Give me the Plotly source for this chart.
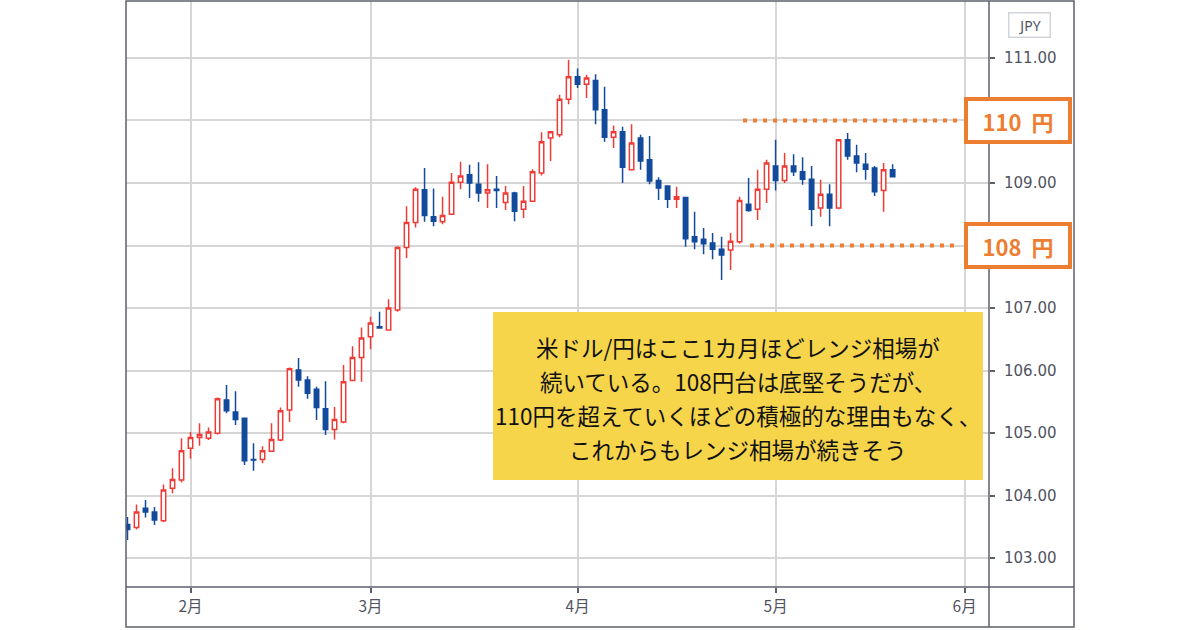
import pandas as pd
import plotly.graph_objects as go

# ---------------- data (USD/JPY daily, Jan 21 – May 20 2021) ----------------
dates = pd.bdate_range("2021-01-21", "2021-05-20")

opens = [
    103.54, 103.49, 103.80, 103.74, 103.60, 104.12, 104.25,
    104.76, 104.93, 104.92, 105.00, 105.53, 105.34, 105.24, 104.58, 104.58, 104.71,
    104.89, 105.37, 106.01, 105.85, 105.70, 105.39, 105.06, 105.18, 105.84, 106.21,
    106.54, 106.70, 106.65, 106.97, 107.97, 108.37, 108.89, 108.46, 108.38, 108.50,
    109.01, 109.13, 108.98, 108.84, 108.90, 108.69, 108.84, 108.58, 108.71, 109.16,
    109.72, 109.77, 110.34,
    110.70, 110.58, 110.64, 110.17, 109.73, 109.82, 109.21, 109.72, 109.37, 109.04,
    108.95, 108.74, 108.77, 108.14, 108.10, 108.04, 107.94, 107.93, 108.06, 108.66,
    108.58, 108.90,
    109.27, 109.04, 109.27, 109.18, 109.06, 108.60, 108.82, 108.60, 109.69, 109.43,
    109.30, 109.24, 108.88, 109.21,
]
highs = [
    103.66, 103.86, 103.93, 103.82, 104.18, 104.44, 104.92,
    105.02, 105.16, 105.09, 105.57, 105.77, 105.67, 105.25, 104.84, 104.79, 105.16,
    105.41, 106.05, 106.20, 105.91, 105.74, 105.83, 105.42, 106.09, 106.39, 106.69,
    106.86, 106.94, 107.14, 107.99, 108.63, 108.93, 109.24, 108.91, 108.78, 109.16,
    109.34, 109.29, 109.33, 109.30, 109.11, 108.95, 108.86, 108.95, 109.22, 109.81,
    109.83, 110.41, 110.97,
    110.83, 110.73, 110.74, 110.54, 109.92, 109.90, 109.94, 109.77, 109.75, 109.09,
    108.96, 108.94, 108.78, 108.54, 108.28, 108.20, 108.14, 108.20, 108.78, 109.08,
    109.21, 109.37,
    109.69, 109.48, 109.46, 109.41, 109.27, 109.05, 108.98, 109.70, 109.80, 109.61,
    109.48, 109.27, 109.32, 109.30,
]
lows = [
    103.29, 103.46, 103.65, 103.53, 103.58, 104.04, 104.21,
    104.59, 104.80, 104.89, 104.98, 105.32, 105.13, 104.49, 104.40, 104.52, 104.70,
    104.87, 105.18, 105.74, 105.55, 105.21, 104.97, 104.90, 105.16, 105.83, 105.82,
    106.34, 106.68, 106.64, 106.94, 107.80, 108.29, 108.38, 108.31, 108.34, 108.49,
    108.90, 108.76, 108.70, 108.60, 108.60, 108.57, 108.39, 108.44, 108.70, 109.12,
    109.35, 109.73, 110.26,
    110.52, 110.36, 109.94, 109.66, 109.56, 109.00, 109.21, 109.21, 108.98, 108.73,
    108.60, 108.60, 107.98, 107.94, 107.86, 107.78, 107.45, 107.61, 108.03, 108.54,
    108.41, 108.68,
    108.88, 109.00, 109.11, 108.97, 108.31, 108.46, 108.31, 108.58, 109.37, 109.17,
    109.05, 108.79, 108.54, 109.09,
]
closes = [
    103.46, 103.74, 103.74, 103.61, 104.09, 104.26, 104.72,
    104.93, 104.98, 105.02, 105.55, 105.36, 105.22, 104.56, 104.57, 104.72, 104.90,
    105.36, 106.03, 105.85, 105.64, 105.41, 105.06, 105.22, 105.82, 106.21, 106.52,
    106.76, 106.68, 107.00, 107.97, 108.37, 108.90, 108.48, 108.39, 108.48, 109.01,
    109.11, 109.00, 108.84, 108.89, 108.88, 108.84, 108.55, 108.71, 109.18, 109.66,
    109.82, 110.34, 110.70,
    110.58, 110.68, 110.17, 109.73, 109.82, 109.25, 109.64, 109.35, 109.03, 108.92,
    108.74, 108.78, 108.11, 108.06, 108.03, 107.94, 107.85, 108.07, 108.72, 108.56,
    108.90, 109.32,
    109.04, 109.27, 109.18, 109.06, 108.58, 108.82, 108.60, 109.69, 109.43, 109.32,
    109.22, 108.86, 109.21, 109.10,
]

month_ticks = ["2021-02-01", "2021-03-01", "2021-04-01", "2021-05-03", "2021-06-01"]
month_labels = ["2月", "3月", "4月", "5月", "6月"]
price_ticks = [103, 104, 105, 106, 107, 108, 109, 110, 111]
price_labels = ["103.00", "104.00", "105.00", "106.00", "107.00", "", "109.00", "", "111.00"]

levels = [110, 108]
level_labels = ["110&nbsp; 円", "108&nbsp; 円"]
level_starts = [0.715, 0.723]

comment_lines = [
    "米ドル/円はここ1カ月ほどレンジ相場が",
    "続いている。108円台は底堅そうだが、",
    "110円を超えていくほどの積極的な理由もなく、",
    "これからもレンジ相場が続きそう",
]
comment_y = [0.410, 0.352, 0.293, 0.235]

# ---------------- style ----------------
RED = "#EF3B36"
BLUE = "#124A9C"
ORANGE = "#ED7D31"
FRAME = "#5D606B"
GRID = "#D6D6D6"
LABEL = "#50535E"
YELLOW = "#F6D54B"
JP = "Noto Sans CJK JP"

fig = go.Figure()
fig.add_trace(go.Candlestick(
    x=dates, open=opens, high=highs, low=lows, close=closes,
    increasing=dict(line=dict(color=RED, width=1.5), fillcolor="white"),
    decreasing=dict(line=dict(color=BLUE, width=1.5), fillcolor=BLUE),
    showlegend=False, hoverinfo="skip",
))

fig.update_layout(
    width=1200, height=630,
    margin=dict(l=126, r=211, t=1, b=43),
    paper_bgcolor="white", plot_bgcolor="white",
    showlegend=False,
    xaxis=dict(
        type="date",
        rangebreaks=[dict(bounds=["sat", "mon"])],
        range=["2021-01-20 20:00", "2021-06-03 17:00"],
        rangeslider=dict(visible=False),
        tickvals=month_ticks, ticktext=month_labels,
        showgrid=True, gridcolor=GRID, gridwidth=1.5,
        ticks="outside", ticklen=5, tickwidth=1.5, tickcolor=FRAME,
        tickfont=dict(family=JP, size=15.5, color=LABEL),
        showline=False, zeroline=False,
    ),
    yaxis=dict(
        side="right",
        range=[102.54, 111.91],
        tickvals=price_ticks, ticktext=price_labels,
        showgrid=True, gridcolor=GRID, gridwidth=1.5,
        ticks="outside", ticklen=5, tickwidth=1.5, tickcolor=FRAME,
        ticklabelstandoff=6,
        tickfont=dict(family="DejaVu Sans", size=15, color=LABEL),
        showline=False, zeroline=False,
    ),
)

shapes = []
# yellow comment box
shapes.append(dict(type="rect", xref="paper", yref="paper",
                   x0=0.4253, x1=0.993, y0=0.1826, y1=0.4693,
                   fillcolor=YELLOW, line=dict(width=0), layer="above"))
# level lines
for lv, xs in zip(levels, level_starts):
    shapes.append(dict(type="line", xref="paper", yref="y",
                       x0=xs, x1=0.964, y0=lv, y1=lv,
                       line=dict(color=ORANGE, width=4, dash="4px,6px"), layer="above"))
# frame
XR = 1.0985
YB = -0.0683
shapes.append(dict(type="rect", xref="paper", yref="paper", x0=0, x1=XR, y0=YB, y1=1,
                   line=dict(color=FRAME, width=1.5), layer="above"))
shapes.append(dict(type="line", xref="paper", yref="paper", x0=1, x1=1, y0=YB, y1=1,
                   line=dict(color=FRAME, width=1.5), layer="above"))
shapes.append(dict(type="line", xref="paper", yref="paper", x0=0, x1=XR, y0=0, y1=0,
                   line=dict(color=FRAME, width=1.5), layer="above"))
fig.update_layout(shapes=shapes)

annotations = []
for lv, txt in zip(levels, level_labels):
    annotations.append(dict(
        xref="paper", yref="y", x=1.0336, y=lv, text="<b>" + txt + "</b>", showarrow=False,
        xanchor="center", yanchor="middle",
        font=dict(family=JP, size=22, color=ORANGE),
        bgcolor="white", bordercolor=ORANGE, borderwidth=4, borderpad=0,
        width=100, height=39, align="center", valign="middle",
    ))
annotations.append(dict(
    xref="paper", yref="paper", x=1.0475, y=0.9597, text="JPY", showarrow=False,
    xanchor="center", yanchor="middle",
    font=dict(family="Noto Sans", size=14, color=LABEL),
    bgcolor="white", bordercolor="#D1D4DC", borderwidth=1.5, borderpad=1,
    width=38, height=21,
))
for line, yy in zip(comment_lines, comment_y):
    annotations.append(dict(
        xref="paper", yref="paper", x=0.709, y=yy, text=line, showarrow=False,
        xanchor="center", yanchor="middle",
        font=dict(family=JP, size=22.5, color="#111111"),
    ))
fig.update_layout(annotations=annotations)

fig.write_html("out.html", config={"displayModeBar": False},
               post_script="document.body.style.margin='0';")
